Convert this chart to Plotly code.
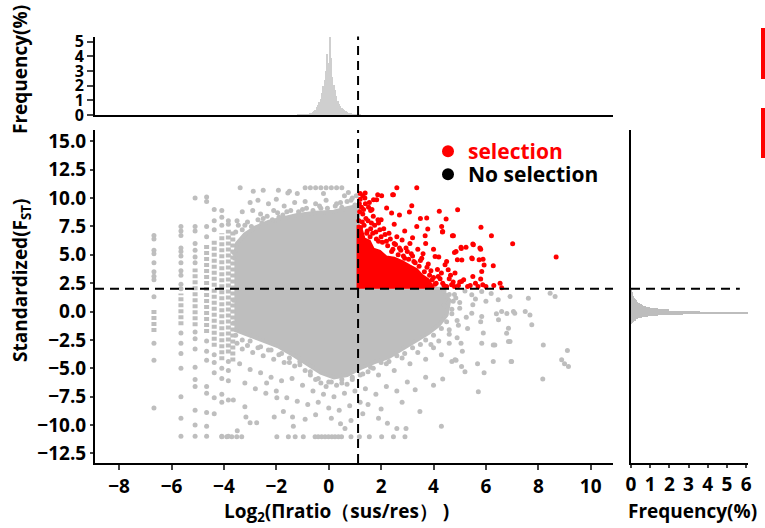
import plotly.graph_objects as go

W, H = 765, 528
def px_x(p): return p / W
def px_y(p): return 1 - p / H

# ---------------- data ----------------
X_THR = 1.12   # log2 pi-ratio threshold
Y_THR = 2.0    # standardized Fst threshold

# outline of the dense gray (no selection) cloud
cloud_x = [-3.6, -3.5, -3.2, -2.8, -2.3, -1.8, -1.2, -0.5, 0.2, 0.7, 1.12,
           1.12, 4.3, 4.6, 4.5, 4.2, 3.8, 3.3, 2.9, 2.3, 1.7, 1.2, 0.7, 0.2,
           -0.3, -0.8, -1.3, -1.9, -2.5, -3.1, -3.6]
cloud_y = [4.5, 6.0, 6.8, 7.4, 7.9, 8.2, 8.5, 8.7, 8.8, 9.1, 9.3,
           2.0, 2.0, 1.0, -0.3, -1.2, -1.9, -2.6, -3.2, -4.0, -4.5, -5.0, -5.6, -5.8,
           -5.4, -4.6, -3.9, -3.1, -2.6, -2.1, -1.6]

# outline of the dense red (selection) cloud
sel_cloud_x = [1.12, 1.12, 1.25, 1.35, 1.55, 1.7, 1.95, 2.2, 2.5, 2.8, 3.1, 3.35, 3.55, 3.8, 4.0]
sel_cloud_y = [2.0, 7.6, 7.2, 6.4, 6.2, 5.5, 5.3, 4.8, 4.7, 4.4, 4.0, 3.7, 3.2, 2.8, 2.0]

# dense vertical strips of discrete ratios (x, lower y, upper y)
strip_x  = [-5.1, -4.66, -4.37, -4.08, -3.83, -3.66, -5.64, -6.67]
strip_lo = [-1.3, -1.9, -3.1, -4.3, -3.7, -4.4, -1.2, -1.8]
strip_hi = [3.8, 6.0, 6.3, 6.9, 7.2, 7.2, 1.6, 0.3]

# individual gray points (no selection)
gray_x = ([-6.67]*12 + [-5.64]*18 + [-5.1]*16 + [-4.66]*12 + [-4.37]*8 + [-4.08]*8 + [-3.83]*7 +
          [-3.38, -2.88, -2.5, -1.92, -1.5, -0.9, -0.7, -0.5, -0.3, -0.1, 0.1, 0.3, 0.5, 0.75,
           -1.56, -1.2, -0.2, 0.6, 0.9, -3.0, -2.7, -2.3, -2.0, -1.7, -1.3, -0.9, -0.5, -0.1,
           0.3, 0.7, 1.0, -3.3, -2.9, -2.6, -2.1, -1.6, -1.0, -0.3, 0.5, -3.5, -3.2, -2.5, -1.9,
           -3.5, -3.3, -3.1, -2.9, -2.7, -2.5, -2.3, -2.1, -1.9, -1.7, -1.5, -1.3, -1.1, -0.9,
           -0.7, -0.5, -0.3, -0.1, 0.1, 0.3, 0.5, 0.7, 0.9,
           -3.4, -3.0, -2.6, -2.2, -1.8, -1.4, -1.0, -0.6, -0.2, 0.2, 0.6, 1.0,
           -3.2, -2.8, -2.4, -2.0, -1.6, -1.2, -0.8, -0.4, 0.0, 0.4, 0.8, 1.2,
           -3.64, -3.2, -3.16, -2.75, -3.49, -3.0, -2.08, -1.73, -1.38, -1.35, -1.98, -2.37,
           -0.9, -0.5, 0.1, 0.45, 0.62, 0.85, 1.3,
           -4.08, -3.89, -3.7, -3.51, -3.32, -1.98, -1.54, -1.28, -0.97, -0.52, -0.4, -0.27,
           -0.14, -0.01, 0.12, 0.24, 0.37, 0.49, 0.85, 1.17, 1.55, 2.02, 2.47, 2.91,
           1.3, 1.6, 1.9, 2.2, 2.5, 2.8, 3.1, 3.4, 3.7, 4.0, 4.3, 4.6, 4.86, 4.35, 4.7, 5.05,
           5.1, 4.9, 5.2, 1.4, 1.8, 2.2, 2.6, 3.0, 3.3, 3.7, 4.0, 1.5, 2.0, 2.24, 2.6, 2.95,
           3.48, 4.3, 2.8, 1.9,
           5.71, 8.19, 8.17, 9.11, 8.89, 9.15, 9.0, 7.75, 7.68, 7.5, 6.96, 6.28, 5.93, 5.68,
           6.86, 6.86, 6.28, 6.48, 5.84, 5.8, 6.4, 7.05, 6.8, 5.46, 5.84, 6.47, 6.92, 7.62,
           8.45, 8.64, 6.6, 7.1, 5.46, 5.84, 6.79, 6.92, 6.34, 6.98, 5.07, 4.82, 4.8, 5.0,
           5.2, 4.9, 5.3, 4.7, 5.5, 6.0, 6.2, 5.9, 4.6,
           -3.55, -3.45, -3.3, -3.1, -2.95, -2.7, -2.55, -2.35, -2.15, -1.95, -1.75, -1.45,
           -1.15, -0.85, -0.6, -0.35, -0.05, 0.25, 0.45, 0.85, 1.05,
           4.4, 4.6, 4.75, 4.7, 4.5, 4.3, 4.0, 3.7, 3.5, 3.2, 2.9, 2.6, 2.3, 2.0, 1.7, 1.5,
           1.2, 0.9, 0.5, 0.0, -0.4, -0.7, -1.1, -1.5, -1.8, -2.2, -2.6, -3.0, -3.3, -3.55,
           -3.62, -3.62, -3.62, 4.85, 5.0, 4.95, 4.6, 4.4, 5.25, 5.6, 4.2, 3.9])
gray_y = ([6.7, 6.4, 5.4, 5.1, 4.3, 3.5, 3.1, 2.8, 1.3, -2.8, -4.3, -8.5] +
          [7.5, 7.1, 6.7, 5.6, 5.3, 4.9, 4.3, 3.6, 3.2, 2.4, 2.0, -1.9, -2.8, -3.7, -5.0, -7.5, -9.4, -11.0] +
          [10.0, 7.5, 7.1, 6.0, 5.4, 4.8, 4.3, -1.8, -2.4, -3.3, -4.9, -6.0, -6.6, -8.7, -10.0, -11.0] +
          [10.1, 9.7, 7.5, 6.6, -2.6, -3.5, -4.3, -6.6, -7.2, -8.9, -10.1, -11.0] +
          [9.0, 8.0, 7.2, -3.8, -4.5, -5.4, -7.6, -9.0] +
          [8.9, 8.3, 7.6, -5.0, -5.9, -7.3, -8.0, -11.0] +
          [8.0, 7.7, -4.4, -5.2, -6.1, -7.8, -11.0] +
          [10.9, 10.6, 10.7, 10.7, 10.6, 10.9, 10.9, 10.9, 10.9, 10.9, 10.9, 10.9, 10.9, 10.5,
           10.45, 10.4, 10.4, 10.2, 10.0, 9.6, 9.8, 9.5, 9.9, 9.3, 9.6, 9.7, 9.5, 9.8,
           9.5, 9.7, 9.4, 8.8, 8.9, 8.6, 8.9, 8.8, 9.0, 9.1, 9.2, 8.0, 7.6, 8.2, 8.3,
           -2.8, -3.3, -3.0, -3.6, -3.2, -3.9, -3.4, -4.2, -3.8, -4.5, -4.1, -4.8, -4.4, -5.2,
           -5.6, -6.0, -6.3, -6.6, -6.2, -6.5, -6.0, -6.4, -5.8,
           -4.6, -5.1, -5.4, -5.8, -6.1, -5.9, -6.5, -7.0, -7.3, -7.5, -7.2, -7.0,
           -6.3, -6.8, -7.2, -7.0, -7.6, -7.9, -8.2, -8.0, -8.5, -8.7, -8.3, -8.0,
           -7.8, -8.4, -9.3, -9.8, -10.5, -9.8, -9.3, -8.8, -9.3, -10.1, -7.6, -6.3,
           -9.5, -9.1, -9.4, -9.9, -10.3, -9.6, -9.0,
           -11.03, -11.03, -11.03, -11.03, -11.03, -11.03, -11.03, -11.03, -11.03, -11.03,
           -11.03, -11.03, -11.03, -11.03, -11.03, -11.03, -11.03, -11.03, -11.03, -11.03,
           -11.03, -11.03, -11.03, -11.03,
           -5.5, -4.9, -5.6, -4.6, -5.2, -4.1, -4.6, -3.6, -4.2, -3.2, -3.8, -2.8, -4.3, -5.94,
           -4.4, -2.8, -3.5, -2.3, -5.3, -6.8, -7.3, -6.6, -7.0, -6.2, -6.9, -5.8, -6.5, -8.2,
           -8.6, -9.85, -10.3, -10.3, -8.8, -10.1, -8.0, -9.4,
           -7.06, -2.94, -5.94, -3.44, -4.26, -4.85, -4.6, -1.17, -0.3, 0.0, -4.4, -4.4, -5.4,
           -4.6, -1.47, -2.65, -2.94, -0.73, -2.8, -0.9, -0.2, 0.0, -0.17, 1.47, 1.77, 1.03,
           1.32, 1.18, 1.62, 1.32, 0.0, -0.15, -0.15, -0.44, -1.91, -2.65, -2.94, -4.41,
           -4.85, -4.26, 1.5, 0.8, 1.8, -0.8, -1.5, 0.2, 0.6, 0.9, 1.6, -1.9, -1.6,
           7.0, 7.6, 7.2, 7.9, 7.5, 8.1, 7.8, 8.4, 8.1, 8.7, 8.5, 8.9,
           8.8, 9.1, 8.9, 9.3, 9.1, 9.3, 9.6, 9.8, 10.2,
           1.8, 1.5, 0.9, -0.2, -0.9, -1.5, -2.1, -2.5, -2.9, -3.2, -3.7, -3.9, -4.4, -4.5,
           -5.0, -5.3, -5.6, -6.0, -6.3, -6.2, -5.9, -5.3, -4.7, -4.5, -3.7, -3.4, -3.1, -2.6,
           -2.5, -2.1, 5.2, 1.0, -1.0, 1.2, 0.3, -1.2, -2.0, 0.6, -0.5, 1.1, -2.6, -2.9])

# individual red points (selection)
red_x = [2.6, 3.36, 2.44, 1.87, 1.39, 1.71, 2.21, 2.4, 3.08, 4.22, 4.92, 4.48, 5.81, 6.21,
         7.02, 8.68, 5.52, 5.8, 5.05, 5.24, 4.76, 3.78, 4.35, 3.36, 3.68, 4.8, 5.46, 5.74,
         4.91, 4.06, 6.28, 5.84, 4.44, 4.56, 4.82, 5.5, 5.8, 5.88, 6.54, 5.07, 4.69, 4.18,
         3.17, 3.74, 4.31, 4.34, 5.93, 5.5, 5.77, 5.06, 5.48, 5.89, 4.72, 4.86, 5.08, 2.02,
         1.83, 2.47,
         1.2, 1.25, 1.3, 1.4, 1.5, 1.35, 1.6, 1.7, 1.8, 1.9, 2.0, 2.1, 2.2, 2.3, 2.5, 2.6,
         2.7, 2.8, 3.0, 3.1, 3.2, 3.4, 3.5, 3.6, 3.8, 3.9, 4.0, 4.1, 4.3, 4.4, 4.5, 4.6,
         4.8, 5.0, 5.3, 5.6, 6.0, 1.45, 1.9, 2.4, 2.9, 3.3, 1.6, 2.0, 2.5, 2.9, 3.2, 3.7,
         4.0, 4.2, 3.5, 2.7, 1.3, 1.55,
         1.15, 1.18, 1.22, 1.28, 1.33, 1.42, 1.47, 1.52, 1.58, 1.63, 1.68, 1.75, 1.82, 1.88,
         1.95, 2.05, 2.15, 2.25, 2.35, 2.45, 2.55, 2.65, 2.75, 2.85, 2.95, 3.05, 3.15, 3.25,
         3.45, 3.55, 3.65, 3.75, 3.85, 3.95, 4.05, 4.15, 4.25, 4.35, 4.5, 4.65, 4.75, 4.95,
         5.15, 5.4, 5.7, 6.3, 6.6, 1.17, 1.2, 1.38, 1.65]
red_y = [10.9, 10.9, 10.3, 10.3, 10.45, 9.86, 9.12, 8.68, 8.77, 8.83, 8.98, 8.15, 7.42, 6.68,
         5.98, 4.8, 5.89, 5.5, 5.67, 5.67, 6.68, 7.27, 7.06, 7.5, 6.68, 5.2, 4.71, 4.56,
         4.56, 4.86, 4.03, 3.53, 4.12, 3.68, 3.39, 3.09, 2.86, 2.36, 2.5, 2.65, 2.36, 3.09,
         9.33, 8.24, 7.5, 7.0, 4.1, 5.95, 5.6, 5.55, 4.65, 4.6, 6.68, 5.3, 4.55, 10.2,
         9.86, 10.3,
         9.9, 9.2, 8.6, 9.5, 8.0, 7.6, 7.3, 8.4, 7.0, 7.8, 6.6, 7.3, 6.2, 6.9, 6.0, 6.6,
         5.6, 6.3, 5.3, 6.0, 4.9, 5.5, 4.5, 5.1, 4.2, 3.6, 3.0, 2.5, 3.4, 2.3, 4.4, 2.9,
         2.2, 2.6, 2.2, 2.5, 2.2, 6.9, 6.2, 5.3, 4.7, 4.3, 8.9, 8.1, 7.7, 7.1, 6.5, 6.0,
         5.5, 4.8, 8.2, 8.5, 10.2, 9.6,
         8.0, 8.8, 7.4, 7.9, 9.0, 8.2, 7.1, 9.2, 6.6, 7.8, 6.9, 7.6, 6.4, 8.1,
         7.2, 6.1, 6.8, 5.8, 6.4, 5.5, 5.9, 5.0, 5.4, 4.9, 5.6, 4.6, 5.1, 4.4,
         4.0, 4.7, 3.5, 3.9, 3.2, 2.8, 2.4, 3.7, 2.9, 2.5, 2.2, 3.2, 2.6, 2.3,
         2.8, 2.3, 2.2, 2.3, 2.1, 9.5, 10.4, 10.0, 9.0]

# top histogram: log2 pi-ratio bins (%)
hx_bins = [-1.20, -1.15, -1.10, -1.05, -1.00, -0.95, -0.90, -0.85, -0.80, -0.75, -0.70,
           -0.65, -0.60, -0.55, -0.50, -0.45, -0.40, -0.35, -0.30, -0.25, -0.20, -0.15,
           -0.10, -0.05, 0.00, 0.05, 0.10, 0.15, 0.20, 0.25, 0.30, 0.35, 0.40, 0.45, 0.50,
           0.55, 0.60, 0.65, 0.70, 0.75, 0.80, 0.85, 0.90, 0.95, 1.00, 1.05, 1.10, 1.15, 1.20]
hx_freq = [0.02, 0.03, 0.03, 0.04, 0.05, 0.06, 0.07, 0.08, 0.10, 0.12, 0.14,
           0.18, 0.22, 0.30, 0.40, 0.55, 0.70, 0.90, 1.10, 1.50, 2.00, 2.40,
           3.00, 4.20, 3.60, 5.35, 3.90, 2.60, 2.10, 1.70, 1.30, 1.00, 0.80, 0.65, 0.50,
           0.42, 0.34, 0.28, 0.22, 0.19, 0.16, 0.13, 0.11, 0.09, 0.08, 0.06, 0.05, 0.04, 0.03]

# right histogram: standardized Fst bins (%)
hy_bins = [1.8, 1.7, 1.6, 1.5, 1.4, 1.3, 1.2, 1.1, 1.0, 0.9, 0.8, 0.7, 0.6, 0.5, 0.4, 0.3,
           0.2, 0.1, 0.0, -0.1, -0.2, -0.3, -0.4, -0.5, -0.6, -0.7, -0.8, -0.9, -1.0]
hy_freq = [0.02, 0.04, 0.07, 0.10, 0.12, 0.15, 0.18, 0.22, 0.27, 0.32, 0.38, 0.45, 0.55, 0.65,
           0.80, 1.00, 1.40, 2.00, 3.60, 6.10, 2.70, 1.40, 0.90, 0.55, 0.38, 0.25, 0.15, 0.09, 0.05]

x_ticks = [-8, -6, -4, -2, 0, 2, 4, 6, 8, 10]
y_ticks = [-12.5, -10.0, -7.5, -5.0, -2.5, 0.0, 2.5, 5.0, 7.5, 10.0, 12.5, 15.0]
hx_ticks = [0, 1, 2, 3, 4, 5]
hy_ticks = [0, 1, 2, 3, 4, 5, 6]

# ---------------- figure ----------------
GRAY = "#bebebe"
RED = "#ff0000"
FONT = "Open Sans"

fig = go.Figure()

fig.add_trace(go.Scatter(x=cloud_x, y=cloud_y, mode="lines", fill="toself",
                         fillcolor=GRAY, line=dict(color=GRAY, width=4),
                         showlegend=False, hoverinfo="skip"))

sx, sy = [], []
for x, lo, hi in zip(strip_x, strip_lo, strip_hi):
    sx += [x, x, None]
    sy += [lo, hi, None]
fig.add_trace(go.Scatter(x=sx, y=sy, mode="lines",
                         line=dict(color=GRAY, width=5, dash="4px,2px"),
                         showlegend=False, hoverinfo="skip"))

fig.add_trace(go.Scatter(x=gray_x, y=gray_y, mode="markers",
                         marker=dict(color=GRAY, size=5), showlegend=False))

fig.add_trace(go.Scatter(x=sel_cloud_x, y=sel_cloud_y, mode="lines", fill="toself",
                         fillcolor=RED, line=dict(color=RED, width=3),
                         showlegend=False, hoverinfo="skip"))
fig.add_trace(go.Scatter(x=red_x, y=red_y, mode="markers",
                         marker=dict(color=RED, size=5), showlegend=False))

# legend entries (one legend box each, to control spacing)
fig.add_trace(go.Scatter(x=[None], y=[None], mode="markers",
                         marker=dict(color=RED, size=11), legend="legend",
                         name="<span style='color:#ff0000'>selection</span>"))
fig.add_trace(go.Scatter(x=[None], y=[None], mode="markers", legend="legend2",
                         marker=dict(color="black", size=11), name="No selection"))

# histograms
fig.add_trace(go.Bar(x=hx_bins, y=hx_freq, width=0.05, marker=dict(color="#cfcfcf", line=dict(width=0)),
                     xaxis="x2", yaxis="y2", showlegend=False))
fig.add_trace(go.Bar(y=hy_bins, x=hy_freq, width=0.1, orientation="h",
                     marker=dict(color="#bdbdbd", line=dict(width=0)),
                     xaxis="x3", yaxis="y3", showlegend=False))

tickfont = dict(family=FONT, size=19, color="black", weight="bold")
axline = dict(showline=True, linecolor="black", linewidth=2, showgrid=False, zeroline=False,
              automargin=False)

main_xd = [px_x(95), px_x(613)]
main_yd = [px_y(463), px_y(130)]
XR = [-8.92, 10.85]
YR = [-13.35, 16.0]

legfont = dict(family=FONT, size=21, color="black", weight="bold")
fig.update_layout(
    template="none",
    width=W, height=H, margin=dict(l=0, r=0, t=0, b=0, autoexpand=False),
    paper_bgcolor="white", plot_bgcolor="white",
    font=dict(family=FONT, color="black"),
    xaxis=dict(domain=main_xd, range=XR, anchor="y", tickvals=x_ticks,
               ticks="outside", ticklen=5, tickwidth=1.5, tickfont=tickfont, **axline),
    yaxis=dict(domain=main_yd, range=YR, anchor="x", tickvals=y_ticks, tickformat=".1f",
               ticks="outside", ticklen=3, tickwidth=1.5, tickfont=tickfont, **axline),
    xaxis2=dict(domain=main_xd, range=XR, anchor="y2", showticklabels=False, ticks="", **axline),
    yaxis2=dict(domain=[px_y(115), px_y(36.6)], range=[0, 5.35], anchor="x2", tickvals=hx_ticks,
                ticks="outside", ticklen=6, tickwidth=1.5,
                tickfont=dict(family=FONT, size=16, color="black", weight="bold"), **axline),
    xaxis3=dict(domain=[px_x(631), px_x(748)], range=[0, 6.1], anchor="y3", tickvals=hy_ticks,
                ticks="outside", ticklen=3, tickwidth=1.5, tickfont=tickfont, **axline),
    yaxis3=dict(domain=main_yd, range=YR, anchor="x3", showticklabels=False, ticks="", **axline),
    bargap=0,
    showlegend=True,
    legend=dict(x=px_x(428), y=px_y(131), xanchor="left", yanchor="top",
                bgcolor="rgba(0,0,0,0)", borderwidth=0, font=legfont, itemsizing="constant"),
    legend2=dict(x=px_x(428), y=px_y(154), xanchor="left", yanchor="top",
                 bgcolor="rgba(0,0,0,0)", borderwidth=0, font=legfont, itemsizing="constant"),
)

dash = dict(color="black", width=2, dash="9px,6px")
fig.add_shape(type="line", xref="x", yref="y domain", x0=X_THR, x1=X_THR, y0=0, y1=1, line=dash)
fig.add_shape(type="line", xref="x2", yref="y2 domain", x0=X_THR, x1=X_THR, y0=0, y1=1, line=dash)
fig.add_shape(type="line", xref="x domain", yref="y", x0=0, x1=1, y0=Y_THR, y1=Y_THR, line=dash)
fig.add_shape(type="line", xref="x3 domain", yref="y3", x0=0, x1=0.93, y0=Y_THR, y1=Y_THR, line=dash)

# red edge marks at right border
fig.add_shape(type="rect", xref="paper", yref="paper", x0=px_x(761), x1=1, y0=px_y(79), y1=px_y(28),
              fillcolor=RED, line=dict(width=0))
fig.add_shape(type="rect", xref="paper", yref="paper", x0=px_x(761), x1=1, y0=px_y(158), y1=px_y(108),
              fillcolor=RED, line=dict(width=0))

titlefont = dict(family=FONT, size=19, color="black", weight="bold")
ann = dict(xref="paper", yref="paper", showarrow=False, font=titlefont,
           xanchor="center", yanchor="middle")
fig.add_annotation(text="Frequency(%)", x=px_x(20), y=px_y(70), textangle=-90, **ann)
fig.add_annotation(text="Standardized(F<sub>ST</sub>)", x=px_x(21), y=px_y(280), textangle=-90, **ann)
fig.add_annotation(text="Log<sub>2</sub>(Πratio（sus/res） )", x=px_x(336), y=px_y(512), **ann)
fig.add_annotation(text="Frequency(%)", x=px_x(692), y=px_y(511), **ann)

fig.write_html("out.html", config={"displayModeBar": False},
               post_script="document.body.style.margin='0';")
